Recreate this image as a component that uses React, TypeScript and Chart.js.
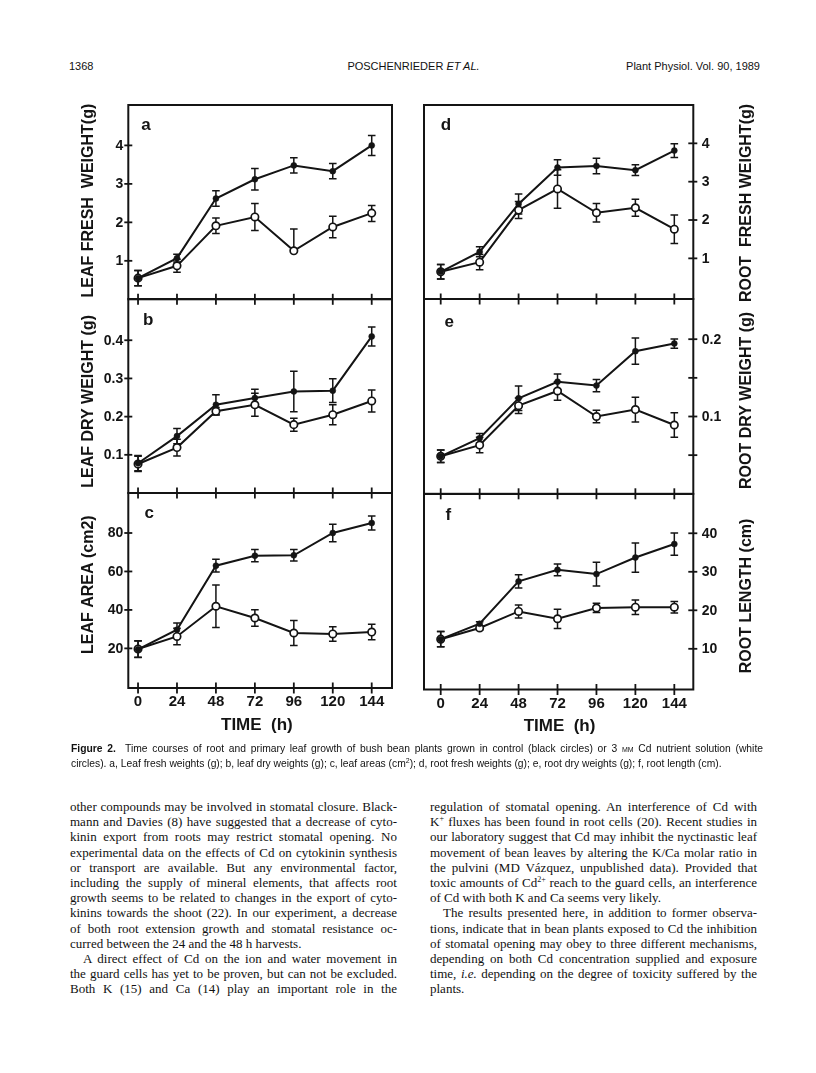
import React, { useEffect, useRef } from "react";
import { Chart, registerables } from "chart.js";

Chart.register(...registerables);

// ---------------- data ----------------
const hours = [0, 24, 48, 72, 96, 120, 144];
const timeTickLabels = ["0", "24", "48", "72", "96", "120", "144"];

// a: leaf fresh weight (g)
const aTicks = [1, 2, 3, 4];
const aTickLabels = ["1", "2", "3", "4"];
const aControl = [0.55, 1.07, 2.62, 3.12, 3.48, 3.33, 4.0];
const aControlErr = [0.2, 0.1, 0.2, 0.28, 0.2, 0.2, 0.26];
const aCd = [0.55, 0.87, 1.91, 2.14, 1.26, 1.88, 2.24];
const aCdErrUp = [0.2, 0.17, 0.2, 0.35, 0.57, 0.28, 0.2];
const aCdErrDown = [0.2, 0.17, 0.2, 0.35, 0, 0.28, 0.22];

// b: leaf dry weight (g)
const bTicks = [0.1, 0.2, 0.3, 0.4];
const bTickLabels = ["0.1", "0.2", "0.3", "0.4"];
const bControl = [0.078, 0.149, 0.231, 0.249, 0.266, 0.268, 0.41];
const bControlErr = [0.02, 0.02, 0.026, 0.023, 0.053, 0.031, 0.025];
const bCd = [0.076, 0.119, 0.214, 0.231, 0.179, 0.205, 0.241];
const bCdErr = [0.02, 0.022, 0.01, 0.03, 0.017, 0.026, 0.029];

// c: leaf area (cm2)
const cTicks = [20, 40, 60, 80];
const cTickLabels = ["20", "40", "60", "80"];
const cControl = [19.5, 29.7, 63, 68.2, 68.4, 80, 85.2];
const cControlErr = [4.3, 3.5, 3.3, 3.2, 3.0, 4.5, 3.6];
const cCd = [19.7, 26.2, 41.9, 35.8, 28, 27.5, 28.5];
const cCdErr = [4.3, 4.3, 11, 4.3, 6.5, 3.8, 4];

// d: root fresh weight (g)
const dTicks = [1, 2, 3, 4];
const dTickLabels = ["1", "2", "3", "4"];
const dControl = [0.65, 1.17, 2.42, 3.37, 3.41, 3.3, 3.81];
const dControlErr = [0.19, 0.13, 0.26, 0.2, 0.2, 0.14, 0.18];
const dCd = [0.65, 0.9, 2.26, 2.81, 2.19, 2.32, 1.76];
const dCdErr = [0.19, 0.2, 0.22, 0.5, 0.24, 0.22, 0.37];

// e: root dry weight (g)
const eTicks = [0.05, 0.1, 0.15, 0.2];
const eTickLabels = ["", "0.1", "", "0.2"];
const eControl = [0.0485, 0.072, 0.1236, 0.145, 0.14, 0.1845, 0.1944];
const eControlErr = [0.008, 0.006, 0.016, 0.01, 0.008, 0.017, 0.006];
const eCd = [0.0485, 0.063, 0.114, 0.133, 0.1, 0.109, 0.089];
const eCdErr = [0.008, 0.01, 0.01, 0.012, 0.008, 0.016, 0.016];

// f: root length (cm)
const fTicks = [10, 20, 30, 40];
const fTickLabels = ["10", "20", "30", "40"];
const fControl = [12.5, 16.5, 27.5, 30.5, 29.4, 33.7, 37.2];
const fControlErr = [2, 0.5, 1.7, 1.5, 3.1, 3.8, 2.9];
const fCd = [12.5, 15.4, 19.7, 17.8, 20.6, 20.8, 20.8];
const fCdErr = [2, 0.5, 1.7, 2.5, 1.2, 1.9, 1.5];

// ---------------- panel configuration ----------------
const SANS = '"Liberation Sans", Arial, Helvetica, sans-serif';
const INK = "#141414";

type PanelCfg = {
  letter: string;
  title: string;
  side: "left" | "right";
  xMin: number;
  xMax: number;
  yMin: number;
  yMax: number;
  yTicks: number[];
  yTickLabels: string[];
  control: number[];
  controlErr: number[];
  cd: number[];
  cdErrUp: number[];
  cdErrDown: number[];
  showX: boolean;
  box: { left: number; top: number; width: number; height: number };
  pad: { top: number; right: number; bottom: number; left: number };
  letterPos: [number, number];
  titleShift: number;
};

const LEFT_BOX = { left: 40, width: 360 };
const RIGHT_BOX = { left: 410, width: 380 };
const LEFT_PAD = { left: 88.3, right: 8 };
const RIGHT_PAD = { left: 14, right: 96.7 };

const panels: PanelCfg[] = [
  {
    letter: "a", title: "LEAF FRESH  WEIGHT(g)", side: "left",
    xMin: -6, xMax: 156.5, yMin: 0, yMax: 5.05,
    yTicks: aTicks, yTickLabels: aTickLabels,
    control: aControl, controlErr: aControlErr, cd: aCd, cdErrUp: aCdErrUp, cdErrDown: aCdErrDown,
    showX: false,
    box: { ...LEFT_BOX, top: 90, height: 225 },
    pad: { ...LEFT_PAD, top: 15, bottom: 15.7 },
    letterPos: [146, 125], titleShift: -1.5,
  },
  {
    letter: "b", title: "LEAF DRY WEIGHT (g)", side: "left",
    xMin: -6, xMax: 156.5, yMin: 0, yMax: 0.508,
    yTicks: bTicks, yTickLabels: bTickLabels,
    control: bControl, controlErr: bControlErr, cd: bCd, cdErrUp: bCdErr, cdErrDown: bCdErr,
    showX: false,
    box: { ...LEFT_BOX, top: 284.3, height: 224 },
    pad: { ...LEFT_PAD, top: 15, bottom: 15 },
    letterPos: [148.3, 320.7], titleShift: 5.4,
  },
  {
    letter: "c", title: "LEAF AREA (cm2)", side: "left",
    xMin: -6, xMax: 156.5, yMin: -0.6, yMax: 100.8,
    yTicks: cTicks, yTickLabels: cTickLabels,
    control: cControl, controlErr: cControlErr, cd: cCd, cdErrUp: cCdErr, cdErrDown: cCdErr,
    showX: true,
    box: { ...LEFT_BOX, top: 478.3, height: 265 },
    pad: { ...LEFT_PAD, top: 15, bottom: 55 },
    letterPos: [149.3, 513.3], titleShift: -5.8,
  },
  {
    letter: "d", title: "ROOT  FRESH WEIGHT(g)", side: "right",
    xMin: -10.3, xMax: 155.7, yMin: -0.06, yMax: 5.0,
    yTicks: dTicks, yTickLabels: dTickLabels,
    control: dControl, controlErr: dControlErr, cd: dCd, cdErrUp: dCdErr, cdErrDown: dCdErr,
    showX: false,
    box: { ...RIGHT_BOX, top: 90, height: 225 },
    pad: { ...RIGHT_PAD, top: 15, bottom: 16 },
    letterPos: [446, 125], titleShift: 1,
  },
  {
    letter: "e", title: "ROOT DRY WEIGHT (g)", side: "right",
    xMin: -10.3, xMax: 155.7, yMin: 0, yMax: 0.252,
    yTicks: eTicks, yTickLabels: eTickLabels,
    control: eControl, controlErr: eControlErr, cd: eCd, cdErrUp: eCdErr, cdErrDown: eCdErr,
    showX: false,
    box: { ...RIGHT_BOX, top: 283.5, height: 225 },
    pad: { ...RIGHT_PAD, top: 15, bottom: 15.2 },
    letterPos: [449.3, 321.7], titleShift: 4,
  },
  {
    letter: "f", title: "ROOT LENGTH (cm)", side: "right",
    xMin: -10.3, xMax: 155.7, yMin: -0.57, yMax: 50.2,
    yTicks: fTicks, yTickLabels: fTickLabels,
    control: fControl, controlErr: fControlErr, cd: fCd, cdErrUp: fCdErr, cdErrDown: fCdErr,
    showX: true,
    box: { ...RIGHT_BOX, top: 478.8, height: 265 },
    pad: { ...RIGHT_PAD, top: 15, bottom: 54.5 },
    letterPos: [448.3, 515], titleShift: 4.2,
  },
];

function makeDecor(p: PanelCfg) {
  return {
    id: "decor_" + p.letter,
    beforeDatasetsDraw(chart: any) {
      const ctx = chart.ctx;
      const xs = chart.scales.x;
      const ys = chart.scales.y;
      ctx.save();
      ctx.strokeStyle = INK;
      ctx.lineWidth = 1.5;
      const series: [number[], number[], number[]][] = [
        [p.control, p.controlErr, p.controlErr],
        [p.cd, p.cdErrUp, p.cdErrDown],
      ];
      for (const [vals, up, down] of series) {
        vals.forEach((v, i) => {
          const x = xs.getPixelForValue(hours[i]);
          const yt = ys.getPixelForValue(v + up[i]);
          const yb = ys.getPixelForValue(v - down[i]);
          ctx.beginPath();
          ctx.moveTo(x, yt);
          ctx.lineTo(x, yb);
          if (up[i] > 0) {
            ctx.moveTo(x - 3.8, yt);
            ctx.lineTo(x + 3.8, yt);
          }
          if (down[i] > 0) {
            ctx.moveTo(x - 3.8, yb);
            ctx.lineTo(x + 3.8, yb);
          }
          ctx.stroke();
        });
      }
      ctx.restore();
    },
    afterDraw(chart: any) {
      const ctx = chart.ctx;
      const ca = chart.chartArea;
      const xs = chart.scales.x;
      const ys = chart.scales.y;
      ctx.save();
      ctx.strokeStyle = INK;
      ctx.fillStyle = INK;
      // frame
      ctx.lineWidth = 2;
      ctx.strokeRect(ca.left, ca.top, ca.right - ca.left, ca.bottom - ca.top);
      // x ticks crossing bottom edge
      ctx.lineWidth = 1.8;
      hours.forEach((h) => {
        const x = xs.getPixelForValue(h);
        ctx.beginPath();
        ctx.moveTo(x, ca.bottom - 5.5);
        ctx.lineTo(x, ca.bottom + 5.5);
        ctx.stroke();
      });
      // y ticks + labels
      ctx.font = `bold 14px ${SANS}`;
      ctx.textBaseline = "middle";
      p.yTicks.forEach((t, i) => {
        const y = ys.getPixelForValue(t);
        ctx.beginPath();
        if (p.side === "left") {
          ctx.moveTo(ca.left - 4, y);
          ctx.lineTo(ca.left + 4, y);
        } else {
          ctx.moveTo(ca.right - 5, y);
          ctx.lineTo(ca.right + 4, y);
        }
        ctx.stroke();
        const lab = p.yTickLabels[i];
        if (lab) {
          if (p.side === "left") {
            ctx.textAlign = "right";
            ctx.fillText(lab, ca.left - 5, y + 0.5);
          } else {
            ctx.textAlign = "left";
            ctx.fillText(lab, ca.right + 8.5, y + 0.5);
          }
        }
      });
      // y title (reads bottom-to-top on both sides)
      ctx.font = `bold 16px ${SANS}`;
      const tx = p.side === "left" ? ca.left - 40 : ca.right + 53.4;
      const ty = (ca.top + ca.bottom) / 2 + p.titleShift;
      ctx.save();
      ctx.translate(tx, ty);
      ctx.rotate(-Math.PI / 2);
      ctx.textAlign = "center";
      ctx.textBaseline = "middle";
      ctx.fillText(p.title, 0, 0);
      ctx.restore();
      // panel letter
      ctx.font = `bold 17px ${SANS}`;
      ctx.textAlign = "center";
      ctx.textBaseline = "middle";
      ctx.fillText(p.letter, p.letterPos[0] - p.box.left, p.letterPos[1] - p.box.top);
      // x axis labels
      if (p.showX) {
        ctx.font = `bold 15px ${SANS}`;
        ctx.textAlign = "center";
        ctx.textBaseline = "middle";
        hours.forEach((h, i) => {
          ctx.fillText(timeTickLabels[i], xs.getPixelForValue(h), ca.bottom + 14);
        });
        ctx.font = `bold 17px ${SANS}`;
        ctx.fillText("TIME  (h)", xs.getPixelForValue(72) + 2, ca.bottom + 37);
      }
      ctx.restore();
    },
  };
}

function Panel({ p }: { p: PanelCfg }) {
  const ref = useRef<HTMLCanvasElement>(null);
  useEffect(() => {
    if (!ref.current) return;
    const chart = new Chart(ref.current, {
      type: "line",
      data: {
        datasets: [
          {
            label: "Control",
            data: hours.map((h, i) => ({ x: h, y: p.control[i] })),
            borderColor: INK,
            borderWidth: 2,
            pointRadius: 3,
            pointBackgroundColor: INK,
            pointBorderColor: INK,
            pointBorderWidth: 0.5,
            tension: 0,
            fill: false,
          },
          {
            label: "3 µM Cd",
            data: hours.map((h, i) => ({ x: h, y: p.cd[i] })),
            borderColor: INK,
            borderWidth: 2,
            pointRadius: 3.7,
            pointBackgroundColor: "#ffffff",
            pointBorderColor: INK,
            pointBorderWidth: 1.7,
            tension: 0,
            fill: false,
          },
        ],
      },
      options: {
        responsive: false,
        animation: false,
        events: [],
        layout: { padding: p.pad },
        scales: {
          x: { type: "linear", min: p.xMin, max: p.xMax, display: false },
          y: { type: "linear", min: p.yMin, max: p.yMax, display: false },
        },
        plugins: { legend: { display: false }, tooltip: { enabled: false } },
      },
      plugins: [makeDecor(p)],
    } as any);
    return () => chart.destroy();
  }, []);
  return (
    <canvas
      ref={ref}
      width={p.box.width}
      height={p.box.height}
      style={{ position: "absolute", left: p.box.left, top: p.box.top }}
    />
  );
}

const SERIF = '"Liberation Serif", "Times New Roman", Times, serif';

function JLine({ children, last, indent }: { children: any; last?: boolean; indent?: boolean }) {
  return (
    <div
      style={{
        textAlign: last ? "left" : "justify",
        textAlignLast: last ? "left" : "justify",
        textIndent: indent ? 13 : 0,
        whiteSpace: "nowrap",
        height: 15.2,
      } as any}
    >
      {children}
    </div>
  );
}

export default function App() {
  const colStyle: any = {
    position: "absolute",
    top: 799,
    width: 327,
    fontFamily: SERIF,
    fontSize: 13,
    lineHeight: "15.2px",
    color: "#111",
  };
  return (
    <div
      style={{
        position: "absolute",
        left: 0,
        top: 0,
        width: 816,
        height: 1073,
        background: "#fff",
        overflow: "hidden",
        color: "#111",
      }}
    >
      {/* running head */}
      <div style={{ position: "absolute", left: 69, top: 59, fontFamily: SANS, fontSize: 11, lineHeight: "14px" }}>1368</div>
      <div style={{ position: "absolute", left: 70, width: 687, top: 59, textAlign: "center", fontFamily: SANS, fontSize: 11, lineHeight: "14px" }}>
        POSCHENRIEDER <i>ET AL.</i>
      </div>
      <div style={{ position: "absolute", right: 56, top: 59, fontFamily: SANS, fontSize: 11, lineHeight: "14px" }}>
        Plant Physiol. Vol. 90, 1989
      </div>

      {panels.map((p) => (
        <Panel key={p.letter} p={p} />
      ))}

      {/* caption */}
      <div style={{ position: "absolute", left: 71, top: 741, width: 692, fontFamily: SANS, fontSize: 10.3, lineHeight: "15px" }}>
        <JLine>
          <b>Figure 2.</b>&nbsp; Time courses of root and primary leaf growth of bush bean plants grown in control (black circles) or 3{" "}
          <span style={{ fontVariant: "small-caps" }}>µm</span> Cd nutrient solution (white
        </JLine>
        <JLine last>
          circles). a, Leaf fresh weights (g); b, leaf dry weights (g); c, leaf areas (cm<sup style={{ fontSize: 7, lineHeight: 0 }}>2</sup>); d, root fresh weights (g); e, root dry weights (g); f, root length (cm).
        </JLine>
      </div>

      {/* body text, left column */}
      <div style={{ ...colStyle, left: 70 }}>
        <JLine>other compounds may be involved in stomatal closure. Black-</JLine>
        <JLine>mann and Davies (8) have suggested that a decrease of cyto-</JLine>
        <JLine>kinin export from roots may restrict stomatal opening. No</JLine>
        <JLine>experimental data on the effects of Cd on cytokinin synthesis</JLine>
        <JLine>or transport are available. But any environmental factor,</JLine>
        <JLine>including the supply of mineral elements, that affects root</JLine>
        <JLine>growth seems to be related to changes in the export of cyto-</JLine>
        <JLine>kinins towards the shoot (22). In our experiment, a decrease</JLine>
        <JLine>of both root extension growth and stomatal resistance oc-</JLine>
        <JLine last>curred between the 24 and the 48 h harvests.</JLine>
        <JLine indent>A direct effect of Cd on the ion and water movement in</JLine>
        <JLine>the guard cells has yet to be proven, but can not be excluded.</JLine>
        <JLine>Both K (15) and Ca (14) play an important role in the</JLine>
      </div>

      {/* body text, right column */}
      <div style={{ ...colStyle, left: 430 }}>
        <JLine>regulation of stomatal opening. An interference of Cd with</JLine>
        <JLine>
          K<sup style={{ fontSize: 8, lineHeight: 0 }}>+</sup> fluxes has been found in root cells (20). Recent studies in
        </JLine>
        <JLine>our laboratory suggest that Cd may inhibit the nyctinastic leaf</JLine>
        <JLine>movement of bean leaves by altering the K/Ca molar ratio in</JLine>
        <JLine>the pulvini (MD Vázquez, unpublished data). Provided that</JLine>
        <JLine>
          toxic amounts of Cd<sup style={{ fontSize: 8, lineHeight: 0 }}>2+</sup> reach to the guard cells, an interference
        </JLine>
        <JLine last>of Cd with both K and Ca seems very likely.</JLine>
        <JLine indent>The results presented here, in addition to former observa-</JLine>
        <JLine>tions, indicate that in bean plants exposed to Cd the inhibition</JLine>
        <JLine>of stomatal opening may obey to three different mechanisms,</JLine>
        <JLine>depending on both Cd concentration supplied and exposure</JLine>
        <JLine>
          time, <i>i.e.</i> depending on the degree of toxicity suffered by the
        </JLine>
        <JLine last>plants.</JLine>
      </div>
    </div>
  );
}
